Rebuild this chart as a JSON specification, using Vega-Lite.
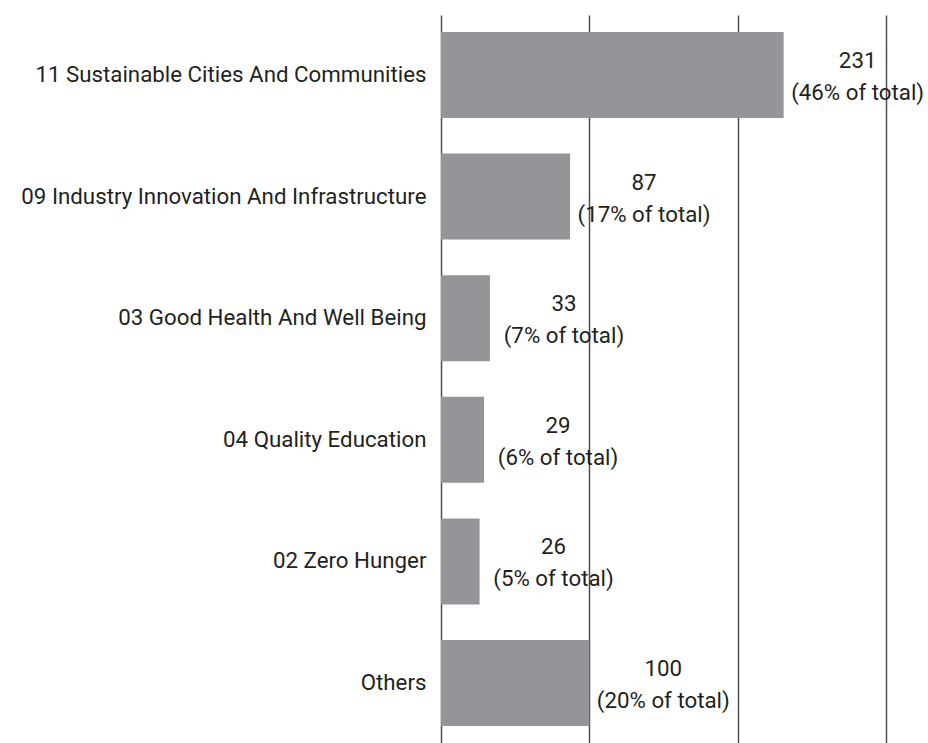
{
  "$schema": "https://vega.github.io/schema/vega-lite/v6.json",
  "autosize": {"type": "none"},
  "padding": {"left": 441, "top": 15, "right": 42, "bottom": 0},
  "width": 445,
  "height": 728,
  "background": "white",
  "config": {"view": {"stroke": null}, "font": "Roboto"},
  "data": {"values": [
    {"category": "11 Sustainable Cities And Communities", "value": 231, "pct": 46},
    {"category": "09 Industry Innovation And Infrastructure", "value": 87, "pct": 17},
    {"category": "03 Good Health And Well Being", "value": 33, "pct": 7},
    {"category": "04 Quality Education", "value": 29, "pct": 6},
    {"category": "02 Zero Hunger", "value": 26, "pct": 5},
    {"category": "Others", "value": 100, "pct": 20}
  ]},
  "transform": [
    {"calculate": "[toString(datum.value), '(' + datum.pct + '% of total)']", "as": "label"}
  ],
  "encoding": {
    "y": {"field": "category", "type": "nominal", "sort": null,
      "scale": {"paddingInner": 0.293, "paddingOuter": 0.14},
      "axis": {"title": null, "ticks": false, "domain": false, "labelPadding": 15, "labelFontSize": 22.3, "labelColor": "#231f20", "labelFont": "Roboto", "labelLimit": 500}},
    "x": {"field": "value", "type": "quantitative",
      "scale": {"domain": [0, 300], "nice": false, "zero": true},
      "axis": {"title": null, "labels": false, "ticks": false, "domain": false, "values": [0, 100, 200, 300], "grid": true, "gridColor": "#4d4d4f", "gridWidth": 1.5, "gridOpacity": 1}}
  },
  "layer": [
    {"mark": {"type": "bar", "color": "#939598"}},
    {"mark": {"type": "text", "align": "center", "baseline": "middle", "dx": 74, "dy": -14, "fontSize": 22.3, "lineHeight": 32, "color": "#231f20", "font": "Roboto"},
      "encoding": {"text": {"field": "label"}}}
  ]
}
